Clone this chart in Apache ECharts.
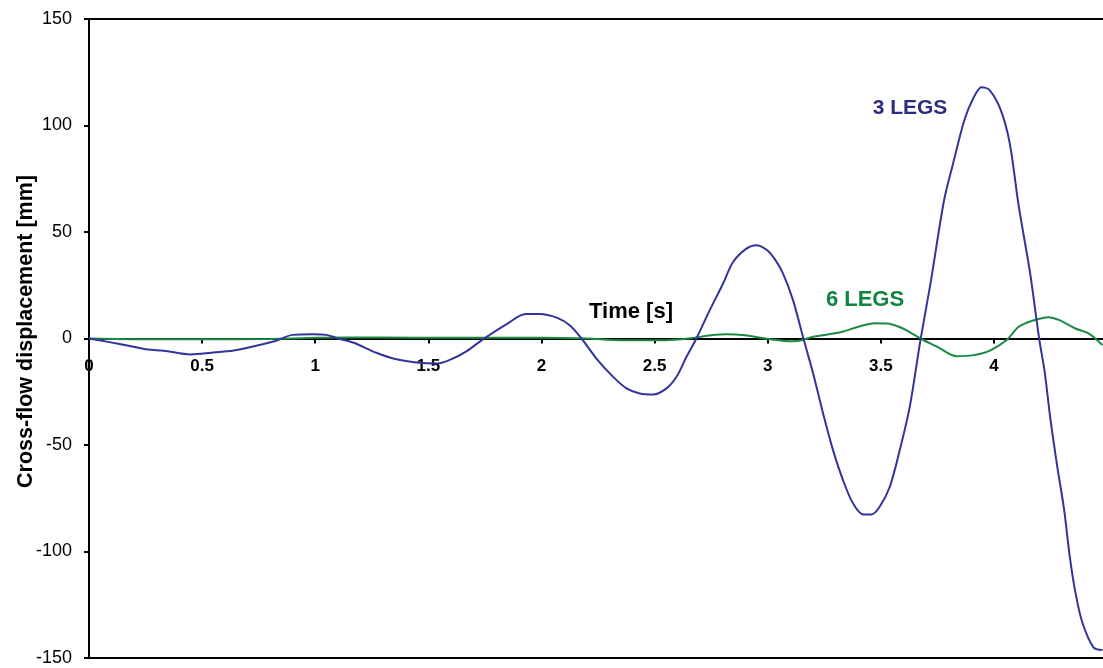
<!DOCTYPE html>
<html>
<head>
<meta charset="utf-8">
<script src="https://cdn.jsdelivr.net/npm/echarts@6/dist/echarts.min.js"></script>
<style>
  html, body { margin: 0; padding: 0; background: #fff; }
  #chart { width: 1103px; height: 668px; }
</style>
</head>
<body>
<div id="chart"></div>
<script>
// 3 LEGS 曲线 (时间 s, 位移 mm)
const legs3Time = [0, 0.09, 0.18, 0.26, 0.33, 0.45, 0.54, 0.64, 0.73, 0.82, 0.90, 0.99, 1.05, 1.10, 1.17, 1.27, 1.35, 1.46, 1.54, 1.60, 1.67, 1.74, 1.85, 1.93, 1.99, 2.07, 2.125, 2.177, 2.243, 2.317, 2.376, 2.435, 2.494, 2.553, 2.597, 2.641, 2.685, 2.744, 2.803, 2.847, 2.906, 2.95, 2.995, 3.03, 3.068, 3.112, 3.156, 3.201, 3.245, 3.289, 3.333, 3.377, 3.422, 3.459, 3.495, 3.54, 3.584, 3.628, 3.675, 3.72, 3.78, 3.82, 3.87, 3.91, 3.945, 3.98, 4.03, 4.07, 4.11, 4.16, 4.20, 4.225, 4.25, 4.28, 4.31, 4.335, 4.36, 4.39, 4.44, 4.48];
const legs3Disp = [0, -1.7, -3.5, -5.2, -5.7, -7.5, -6.7, -5.6, -3.6, -1.3, 1.7, 2.0, 1.7, 0, -2, -6.7, -9.5, -11.4, -11.7, -9.8, -5.9, -0.5, 7, 11.5, 11.5, 9.7, 6.2, 0, -9.4, -18, -23.4, -25.8, -26.3, -23.4, -18, -8.6, 0, 13.3, 25.8, 35.9, 42.2, 43.8, 41.7, 37.5, 30.5, 18, 0.8, -16.4, -35.2, -52.4, -66.5, -77.4, -82.6, -82.6, -79, -69.6, -52.4, -32.1, -1, 26, 65, 82.3, 102.7, 113, 118, 116.7, 107.3, 91.7, 62, 30.8, 0, -16, -38, -60, -80, -102, -119, -133, -145, -146.3];

// 6 LEGS 曲线
const legs6Time = [0, 0.2, 0.5, 0.8, 1.0, 1.3, 1.6, 2.0, 2.2, 2.35, 2.55, 2.65, 2.75, 2.82, 2.9, 2.99, 3.05, 3.11, 3.15, 3.2, 3.27, 3.33, 3.40, 3.47, 3.53, 3.58, 3.62, 3.675, 3.75, 3.835, 3.91, 3.98, 4.055, 4.11, 4.17, 4.24, 4.29, 4.36, 4.42, 4.48];
const legs6Disp = [0, -0.3, -0.4, -0.2, 0.3, 0.5, 0.3, 0.3, 0, -0.8, -0.8, 0, 1.5, 2.0, 1.5, 0, -0.8, -1.3, -0.8, 0.8, 2, 3.2, 5.5, 7.2, 7, 5.5, 3.5, 0, -3.9, -8.3, -7.8, -5.8, -0.8, 5.5, 8.3, 10, 8.6, 4.7, 2.3, -3.1];

// 坐标轴
const xTicks = [0, 4.5, 0.5]; // min, max, interval
const yTicks = [-150, 150, 50];

const FONT = 'Liberation Sans, Arial, sans-serif';
const BLUE = '#33349a';
const GREEN = '#1a8a45';

const GRID_TOP = 19;
const GRID_BOTTOM = 10;
const PLOT_H = 668 - GRID_TOP - GRID_BOTTOM;

function toPairs(ts, vs) {
  return ts.map((t, i) => [t, vs[i]]);
}

const chart = echarts.init(document.getElementById('chart'));

chart.setOption({
  animation: false,
  grid: {
    left: 89,
    right: -4,
    top: GRID_TOP,
    bottom: GRID_BOTTOM,
    outerBoundsMode: 'none',
    containLabel: false,
    show: true,
    borderColor: '#000',
    borderWidth: 2,
    backgroundColor: 'transparent'
  },
  xAxis: {
    type: 'value',
    min: xTicks[0],
    max: xTicks[1],
    interval: xTicks[2],
    position: 'bottom',
    // 把横轴从底边挪到 0 线上
    offset: -PLOT_H * (0 - yTicks[0]) / (yTicks[1] - yTicks[0]),
    axisLine: { onZero: false, lineStyle: { color: '#000', width: 2 } },
    axisTick: { show: true, length: 5, lineStyle: { color: '#000', width: 2 } },
    axisLabel: {
      showMaxLabel: false,
      margin: 19,
      color: '#000',
      fontFamily: FONT,
      fontWeight: 'bold',
      fontSize: 17
    },
    splitLine: { show: false }
  },
  yAxis: {
    type: 'value',
    min: yTicks[0],
    max: yTicks[1],
    interval: yTicks[2],
    name: 'Cross-flow displacement [mm]',
    nameLocation: 'middle',
    nameRotate: 90,
    nameGap: 52,
    nameMoveOverlap: false,
    nameTextStyle: {
      color: '#000',
      fontFamily: FONT,
      fontWeight: 'bold',
      fontSize: 21.5,
      padding: [0, 0, 0, 14]
    },
    axisLine: { show: true, onZero: false, lineStyle: { color: '#000', width: 2 } },
    axisTick: { show: true, length: 5, lineStyle: { color: '#000', width: 2 } },
    axisLabel: {
      margin: 17,
      color: '#000',
      fontFamily: FONT,
      fontSize: 18
    },
    splitLine: { show: false }
  },
  graphic: [
    {
      type: 'text',
      x: 631, y: 312,
      style: { text: 'Time [s]', fill: '#000', font: 'bold 22px ' + FONT, align: 'center', verticalAlign: 'middle' }
    },
    {
      type: 'text',
      x: 910, y: 108,
      style: { text: '3 LEGS', fill: '#2a2d80', font: 'bold 21px ' + FONT, align: 'center', verticalAlign: 'middle' }
    },
    {
      type: 'text',
      x: 865, y: 300,
      style: { text: '6 LEGS', fill: '#11843f', font: 'bold 22px ' + FONT, align: 'center', verticalAlign: 'middle' }
    }
  ],
  series: [
    {
      name: '6 LEGS',
      type: 'line',
      data: toPairs(legs6Time, legs6Disp),
      showSymbol: false,
      smooth: 0.3,
      lineStyle: { color: GREEN, width: 2 },
      z: 3
    },
    {
      name: '3 LEGS',
      type: 'line',
      data: toPairs(legs3Time, legs3Disp),
      showSymbol: false,
      smooth: 0.3,
      lineStyle: { color: BLUE, width: 2 },
      z: 4
    }
  ]
});
</script>
</body>
</html>
